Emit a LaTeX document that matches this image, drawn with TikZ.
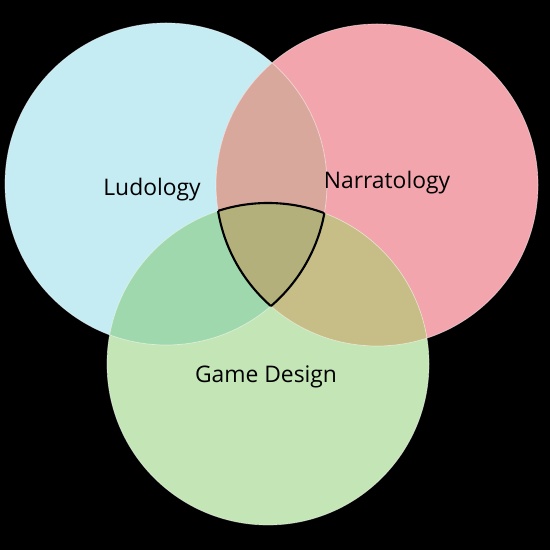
\documentclass[tikz,border=0pt]{standalone}
\usepackage{fontspec}
\setmainfont{Open Sans}
\definecolor{ludoblue}{RGB}{197,235,243}
\definecolor{narrapink}{RGB}{242,165,173}
\definecolor{gamegreen}{RGB}{196,229,182}
\definecolor{ludonarra}{RGB}{217,168,157}
\definecolor{ludogame}{RGB}{160,216,174}
\definecolor{narragame}{RGB}{198,189,135}
\definecolor{allthree}{RGB}{179,176,124}
\begin{document}
\begin{tikzpicture}[x=0.02cm, y=0.02cm,
  label/.style={font=\fontsize{13}{15}\selectfont, text=black},
  rim/.style={draw=white, draw opacity=0.5, line width=0.4pt}]
  \useasboundingbox (0,0) rectangle (550,550);
  \fill[black] (0,0) rectangle (550,550);
  \coordinate (cl) at (166,366);
  \coordinate (cn) at (377,365);
  \coordinate (cg) at (268,186);
  \def\rad{161}
  % the three sets
  \fill[ludoblue] (cl) circle (\rad);
  \fill[narrapink] (cn) circle (\rad);
  \fill[gamegreen] (cg) circle (\rad);
  % pairwise overlaps
  \begin{scope}
    \clip (cl) circle (\rad);
    \fill[ludonarra] (cn) circle (\rad);
    \fill[ludogame] (cg) circle (\rad);
  \end{scope}
  \begin{scope}
    \clip (cn) circle (\rad);
    \fill[narragame] (cg) circle (\rad);
  \end{scope}
  % centre
  \begin{scope}
    \clip (cl) circle (\rad);
    \clip (cn) circle (\rad);
    \fill[allthree] (cg) circle (\rad);
  \end{scope}
  \draw[rim] (cl) circle (\rad) (cn) circle (\rad) (cg) circle (\rad);
  \begin{scope}
    \clip (cl) circle (\rad);
    \clip (cn) circle (\rad);
    \draw[line width=1.2pt] (cg) circle (\rad);
  \end{scope}
  \begin{scope}
    \clip (cn) circle (\rad);
    \clip (cg) circle (\rad);
    \draw[line width=1.2pt] (cl) circle (\rad);
  \end{scope}
  \begin{scope}
    \clip (cl) circle (\rad);
    \clip (cg) circle (\rad);
    \draw[line width=1.2pt] (cn) circle (\rad);
  \end{scope}
  % labels
  \node[label] (ludology) at (152,360) {Ludology};
  \node[label] (narratology) at (387,367) {Narratology};
  \node[label] (gamedesign) at (266,173) {Game Design};
\end{tikzpicture}
\end{document}
